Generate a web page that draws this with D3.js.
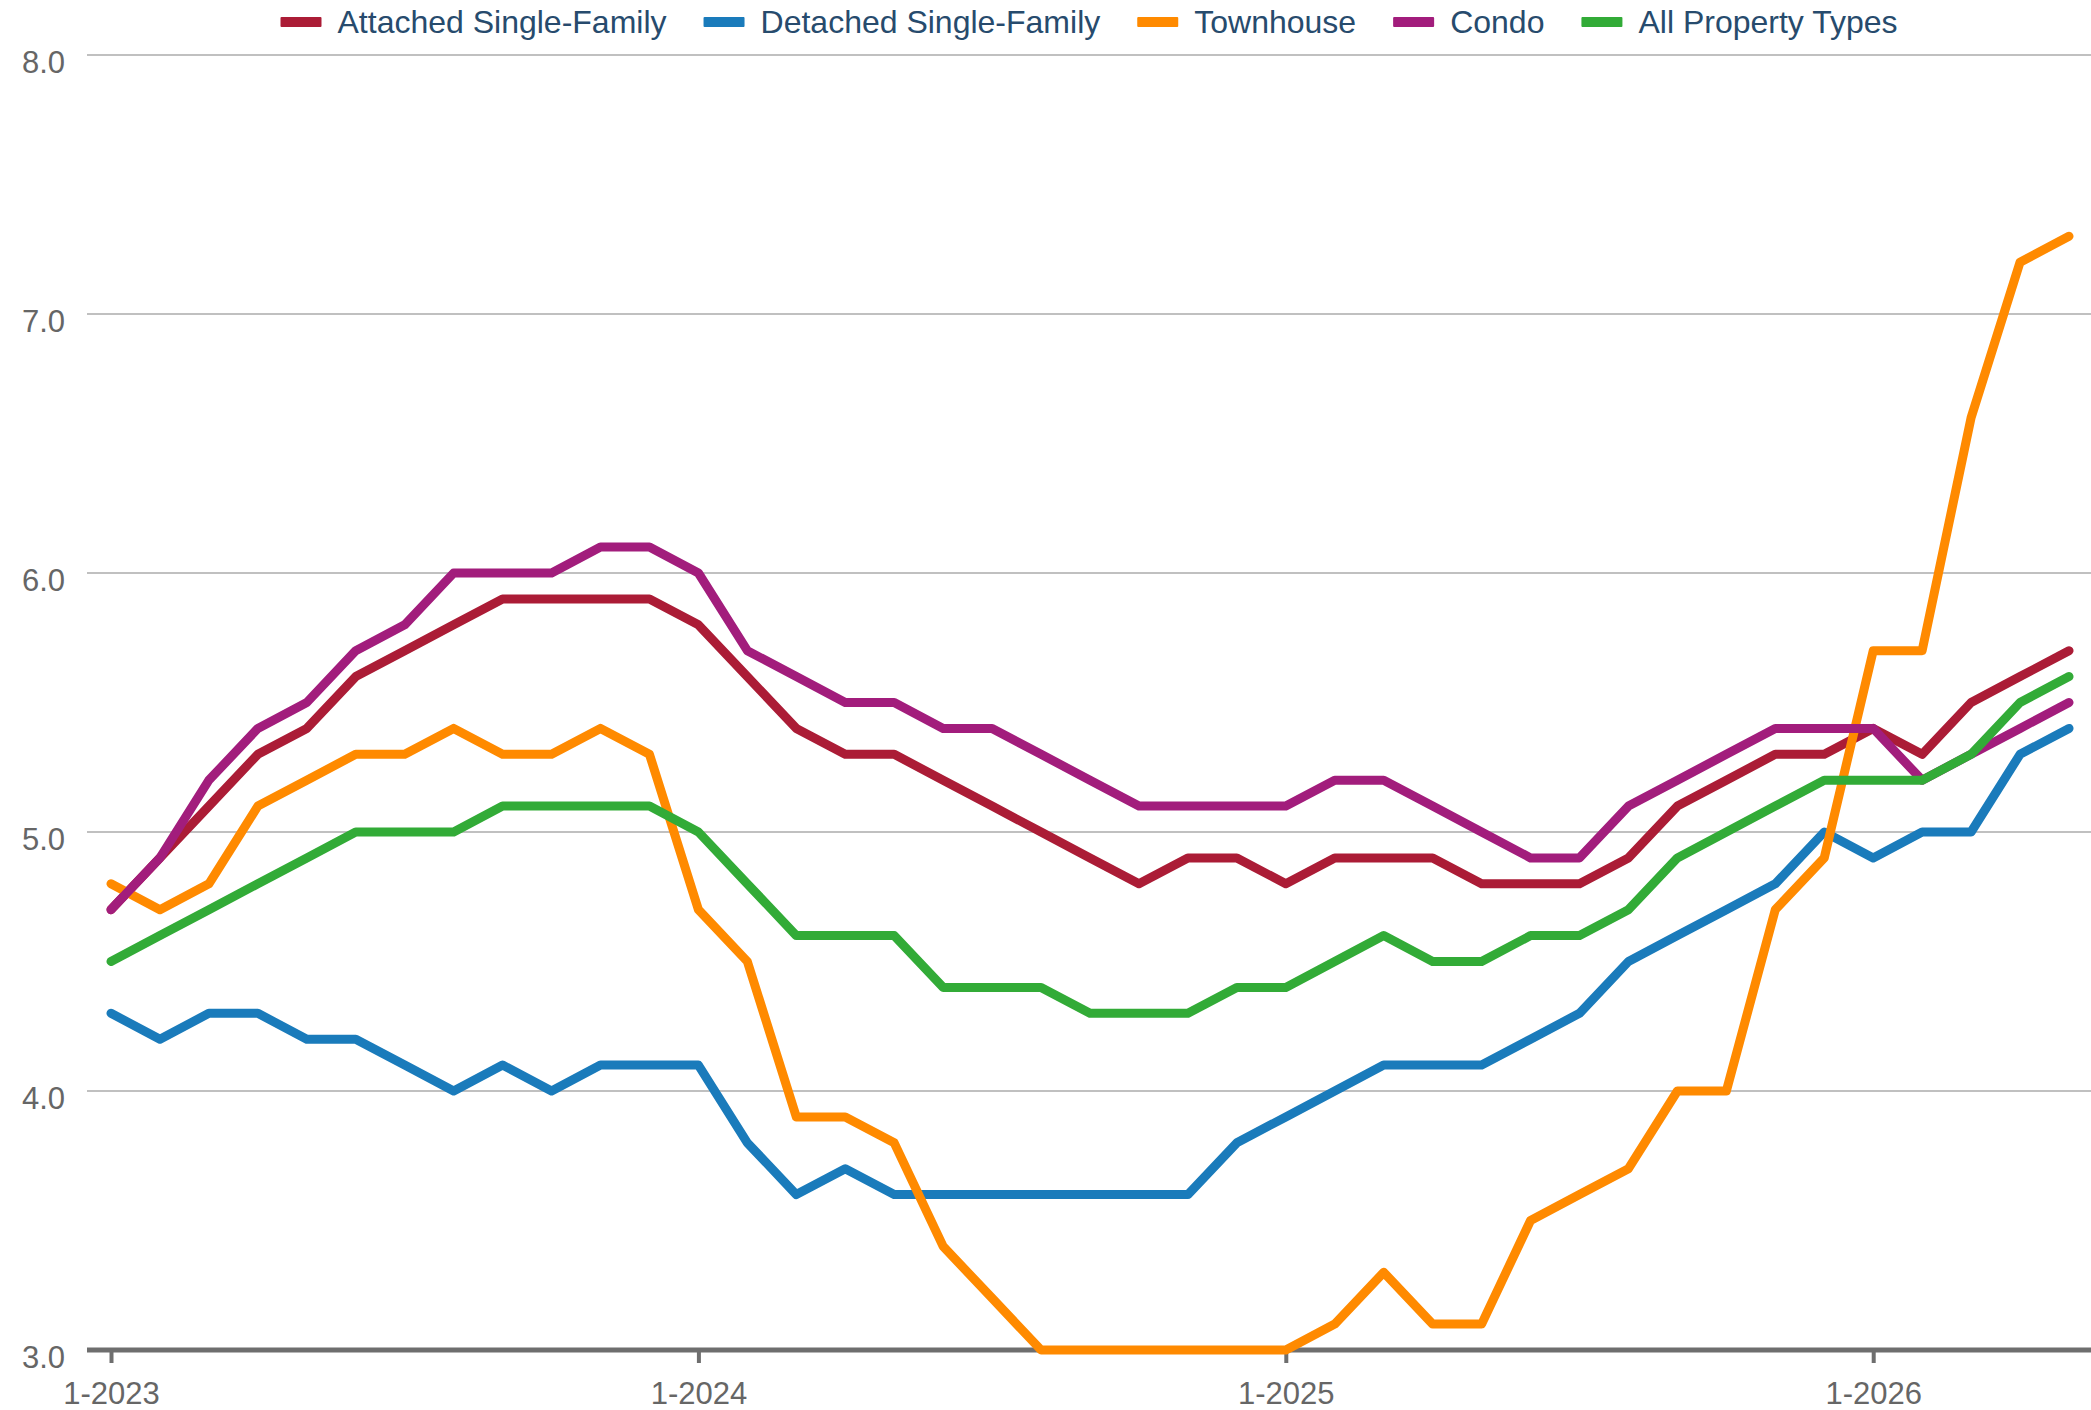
<!DOCTYPE html>
<html>
<head>
<meta charset="utf-8">
<script src="https://cdn.jsdelivr.net/npm/d3@7"></script>
<style>
  body { margin: 0; background: #fff; }
  svg { display: block; font-family: "Liberation Sans", Arial, sans-serif; }
</style>
</head>
<body>
<svg id="chart" width="2091" height="1410"></svg>
<script>
// months 1-2023 .. 5-2026
const months = [];
for (let y = 2023; y <= 2026; y++) {
  for (let m = 1; m <= 12; m++) {
    if (y === 2026 && m > 5) break;
    months.push(m + "-" + y);
  }
}

const seriesNames = ["Attached Single-Family", "Detached Single-Family", "Townhouse", "Condo", "All Property Types"];
const seriesColors = ["#ab1c36", "#1a7bbb", "#ff8a00", "#a21d7c", "#32ab37"];

const attached = [4.7, 4.9, 5.1, 5.3, 5.4, 5.6, 5.7, 5.8, 5.9, 5.9, 5.9, 5.9,
                  5.8, 5.6, 5.4, 5.3, 5.3, 5.2, 5.1, 5.0, 4.9, 4.8, 4.9, 4.9,
                  4.8, 4.9, 4.9, 4.9, 4.8, 4.8, 4.8, 4.9, 5.1, 5.2, 5.3, 5.3,
                  5.4, 5.3, 5.5, 5.6, 5.7];
const detached = [4.3, 4.2, 4.3, 4.3, 4.2, 4.2, 4.1, 4.0, 4.1, 4.0, 4.1, 4.1,
                  4.1, 3.8, 3.6, 3.7, 3.6, 3.6, 3.6, 3.6, 3.6, 3.6, 3.6, 3.8,
                  3.9, 4.0, 4.1, 4.1, 4.1, 4.2, 4.3, 4.5, 4.6, 4.7, 4.8, 5.0,
                  4.9, 5.0, 5.0, 5.3, 5.4];
const townhouse = [4.8, 4.7, 4.8, 5.1, 5.2, 5.3, 5.3, 5.4, 5.3, 5.3, 5.4, 5.3,
                   4.7, 4.5, 3.9, 3.9, 3.8, 3.4, 3.2, 3.0, 3.0, 3.0, 3.0, 3.0,
                   3.0, 3.1, 3.3, 3.1, 3.1, 3.5, 3.6, 3.7, 4.0, 4.0, 4.7, 4.9,
                   5.7, 5.7, 6.6, 7.2, 7.3];
const condo = [4.7, 4.9, 5.2, 5.4, 5.5, 5.7, 5.8, 6.0, 6.0, 6.0, 6.1, 6.1,
               6.0, 5.7, 5.6, 5.5, 5.5, 5.4, 5.4, 5.3, 5.2, 5.1, 5.1, 5.1,
               5.1, 5.2, 5.2, 5.1, 5.0, 4.9, 4.9, 5.1, 5.2, 5.3, 5.4, 5.4,
               5.4, 5.2, 5.3, 5.4, 5.5];
const allTypes = [4.5, 4.6, 4.7, 4.8, 4.9, 5.0, 5.0, 5.0, 5.1, 5.1, 5.1, 5.1,
                  5.0, 4.8, 4.6, 4.6, 4.6, 4.4, 4.4, 4.4, 4.3, 4.3, 4.3, 4.4,
                  4.4, 4.5, 4.6, 4.5, 4.5, 4.6, 4.6, 4.7, 4.9, 5.0, 5.1, 5.2,
                  5.2, 5.2, 5.3, 5.5, 5.6];

const yTicks = [3, 4, 5, 6, 7, 8];
const xTickLabels = ["1-2023", "1-2024", "1-2025", "1-2026"];

const allSeries = [attached, detached, townhouse, condo, allTypes];

const svg = d3.select("#chart");
const plotLeft = 87, plotRight = 2091;

const x = d3.scalePoint()
  .domain(months)
  .range([111, 2069]);

const y = d3.scaleLinear()
  .domain([3, 8])
  .range([1350, 55]);

// gridlines
svg.append("g")
  .selectAll("line")
  .data(yTicks.filter(d => d > 3))
  .enter()
  .append("line")
  .attr("x1", plotLeft)
  .attr("x2", plotRight)
  .attr("y1", d => y(d))
  .attr("y2", d => y(d))
  .attr("stroke", "#c0c0c0")
  .attr("stroke-width", 2);

// y labels
svg.append("g")
  .selectAll("text")
  .data(yTicks)
  .enter()
  .append("text")
  .attr("x", 65)
  .attr("y", d => y(d) + 18)
  .attr("text-anchor", "end")
  .style("font-size", "31px")
  .style("fill", "#666")
  .text(d => d.toFixed(1));

// x axis
const xAxis = svg.append("g")
  .attr("transform", `translate(0, ${y(3)})`)
  .call(d3.axisBottom(x).tickValues(xTickLabels).tickSize(13).tickPadding(20));
xAxis.select(".domain")
  .attr("d", `M${plotLeft},0H${plotRight}`)
  .attr("stroke", "#6e6e6e")
  .attr("stroke-width", 5);
xAxis.selectAll(".tick line")
  .attr("stroke", "#6e6e6e")
  .attr("stroke-width", 4);
xAxis.selectAll(".tick text")
  .attr("dy", null)
  .attr("y", 54)
  .style("font-size", "31px")
  .style("font-family", "'Liberation Sans', Arial, sans-serif")
  .style("fill", "#666");

// lines
const line = d3.line()
  .x((d, i) => x(months[i]))
  .y(d => y(d));

svg.append("g")
  .selectAll("path")
  .data(allSeries)
  .enter()
  .append("path")
  .attr("d", d => line(d))
  .attr("fill", "none")
  .attr("stroke", (d, i) => seriesColors[i])
  .attr("stroke-width", 9)
  .attr("stroke-linejoin", "round")
  .attr("stroke-linecap", "round");

// legend
const legend = svg.append("g");
const items = legend.selectAll("g")
  .data(seriesNames)
  .enter()
  .append("g");
items.append("rect")
  .attr("width", 41)
  .attr("height", 10)
  .attr("y", 17)
  .attr("rx", 1)
  .attr("fill", (d, i) => seriesColors[i]);
items.append("text")
  .attr("x", 57)
  .attr("y", 33)
  .style("font-size", "32px")
  .style("fill", "#274b6d")
  .text(d => d);

let offset = 0;
const widths = [];
items.each(function () {
  const w = 57 + this.querySelector("text").getComputedTextLength();
  widths.push(w);
});
const totalW = d3.sum(widths) + 37 * (widths.length - 1);
offset = (plotLeft + plotRight) / 2 - totalW / 2;
items.attr("transform", (d, i) => {
  const t = `translate(${offset}, 0)`;
  offset += widths[i] + 37;
  return t;
});
</script>
</body>
</html>
